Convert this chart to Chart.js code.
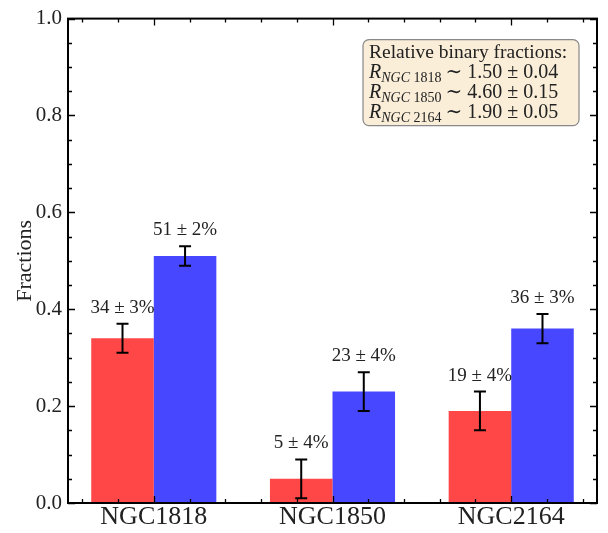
<!DOCTYPE html>
<html>
<head>
<meta charset="utf-8">
<script src="https://cdn.jsdelivr.net/npm/chart.js@4"></script>
<style>
  body { margin: 0; background: #fff; }
  .chart-container { width: 608px; height: 533px; }
</style>
</head>
<body>
<div class="chart-container">
  <canvas id="fractionChart"></canvas>
</div>
<script>
  const categories = ["NGC1818", "NGC1850", "NGC2164"];
  const redValues = [0.34, 0.05, 0.19];
  const redErrors = [0.03, 0.04, 0.04];
  const blueValues = [0.51, 0.23, 0.36];
  const blueErrors = [0.02, 0.04, 0.03];
  const yTicks = [0, 0.2, 0.4, 0.6, 0.8, 1.0];
  const ratioNames = ["1818", "1850", "2164"];
  const ratioValues = ["1.50", "4.60", "1.90"];
  const ratioErrors = ["0.04", "0.15", "0.05"];

  const serif = "'Liberation Serif', 'DejaVu Serif', serif";

  function pct(v, e) {
    return Math.round(v * 100) + " \u00b1 " + Math.round(e * 100) + "%";
  }

  const extras = {
    id: "extras",
    afterDatasetsDraw(chart) {
      const ctx = chart.ctx;
      const y = chart.scales.y;
      const errs = [redErrors, blueErrors];
      ctx.save();
      chart.data.datasets.forEach((ds, di) => {
        const meta = chart.getDatasetMeta(di);
        meta.data.forEach((bar, i) => {
          const v = ds.data[i].y;
          const e = errs[di][i];
          const px = bar.x;
          const top = y.getPixelForValue(v + e);
          const bot = y.getPixelForValue(v - e);
          ctx.strokeStyle = "#000";
          ctx.lineWidth = 2;
          ctx.beginPath();
          ctx.moveTo(px, top); ctx.lineTo(px, bot);
          ctx.moveTo(px - 6, top); ctx.lineTo(px + 6, top);
          ctx.moveTo(px - 6, bot); ctx.lineTo(px + 6, bot);
          ctx.stroke();
          ctx.fillStyle = "#222";
          ctx.font = "19px " + serif;
          ctx.textAlign = "center";
          ctx.textBaseline = "middle";
          ctx.fillText(pct(v, e), px, top - 16);
        });
      });
      ctx.restore();
    },
    afterDraw(chart) {
      const ctx = chart.ctx;
      const a = chart.chartArea;
      const x = chart.scales.x;
      const y = chart.scales.y;
      ctx.save();
      ctx.strokeStyle = "#000";
      // minor / major ticks, inward on all four sides
      ctx.lineWidth = 1.3;
      ctx.beginPath();
      for (let k = 0; k <= 20; k++) {
        const v = k * 0.05;
        const py = Math.round(y.getPixelForValue(v)) + 0.5;
        const len = k % 4 === 0 ? 7 : 4;
        ctx.moveTo(a.left, py); ctx.lineTo(a.left + len, py);
        ctx.moveTo(a.right, py); ctx.lineTo(a.right - len, py);
      }
      for (let k = -2; k <= 12; k++) {
        const v = k * 0.2;
        if (v < x.min || v > x.max) continue;
        const px = Math.round(x.getPixelForValue(v)) + 0.5;
        const len = k % 5 === 0 ? 7 : 4;
        ctx.moveTo(px, a.bottom); ctx.lineTo(px, a.bottom - len);
        ctx.moveTo(px, a.top); ctx.lineTo(px, a.top + len);
      }
      ctx.stroke();
      ctx.lineWidth = 2;
      ctx.strokeRect(a.left, a.top, a.right - a.left, a.bottom - a.top);

      // annotation box
      const bx = a.right - 234, by = a.top + 21, bw = 216, bh = 86;
      ctx.beginPath();
      ctx.roundRect(bx, by, bw, bh, 6);
      ctx.fillStyle = "rgba(245, 222, 179, 0.5)";
      ctx.fill();
      ctx.strokeStyle = "#888";
      ctx.lineWidth = 1.2;
      ctx.stroke();
      ctx.fillStyle = "#222";
      ctx.textAlign = "left";
      ctx.textBaseline = "alphabetic";
      ctx.font = "19.5px " + serif;
      let tx = bx + 6;
      ctx.fillText("Relative binary fractions:", tx, by + 18);
      ratioNames.forEach((n, i) => {
        const ly = by + 38 + i * 20;
        let cx = tx;
        ctx.font = "italic 20px " + serif;
        ctx.fillText("R", cx, ly);
        cx += ctx.measureText("R").width;
        ctx.font = "italic 14px " + serif;
        ctx.fillText("NGC", cx, ly + 4);
        cx += ctx.measureText("NGC ").width;
        ctx.font = "14px " + serif;
        ctx.fillText(n, cx, ly + 4);
        cx += ctx.measureText(n).width + 4;
        ctx.font = "20px " + serif;
        ctx.fillText("\u223c " + ratioValues[i] + " \u00b1 " + ratioErrors[i], cx, ly);
      });
      ctx.restore();
    }
  };

  const ctx = document.getElementById("fractionChart").getContext("2d");
  const myChart = new Chart(ctx, {
    type: "bar",
    data: {
      datasets: [
        {
          label: "red",
          data: redValues.map((v, i) => ({ x: i, y: v })),
          backgroundColor: "rgba(255, 0, 0, 0.72)",
          borderWidth: 0,
        },
        {
          label: "blue",
          data: blueValues.map((v, i) => ({ x: i, y: v })),
          backgroundColor: "rgba(0, 0, 255, 0.72)",
          borderWidth: 0,
        },
      ],
    },
    options: {
      responsive: true,
      maintainAspectRatio: false,
      animation: false,
      categoryPercentage: 0.7,
      barPercentage: 1,
      layout: { padding: { top: 11, right: 11, left: 0, bottom: 0 } },
      plugins: { legend: { display: false }, tooltip: { enabled: false } },
      scales: {
        x: {
          type: "linear",
          offset: false,
          min: -0.48,
          max: 2.48,
          grid: { display: false, drawTicks: false, offset: false },
          border: { display: false },
          afterBuildTicks: (s) => { s.ticks = categories.map((c, i) => ({ value: i })); },
          afterFit: (s) => { s.height = 30; },
          ticks: {
            padding: -1,
            color: "#222",
            font: { family: serif, size: 26 },
            callback: (v) => categories[v],
          },
        },
        y: {
          min: 0,
          max: 1,
          grid: { display: false, drawTicks: false },
          border: { display: false },
          afterBuildTicks: (s) => { s.ticks = yTicks.map((v) => ({ value: v })); },
          afterFit: (s) => { s.width = 68; },
          ticks: {
            padding: 6,
            color: "#222",
            font: { family: serif, size: 21 },
            callback: (v) => Number(v).toFixed(1),
          },
          title: {
            display: true,
            text: "Fractions",
            color: "#222",
            font: { family: serif, size: 22 },
            padding: { top: 12, bottom: 0 },
          },
        },
      },
    },
    plugins: [extras],
  });
</script>
</body>
</html>
